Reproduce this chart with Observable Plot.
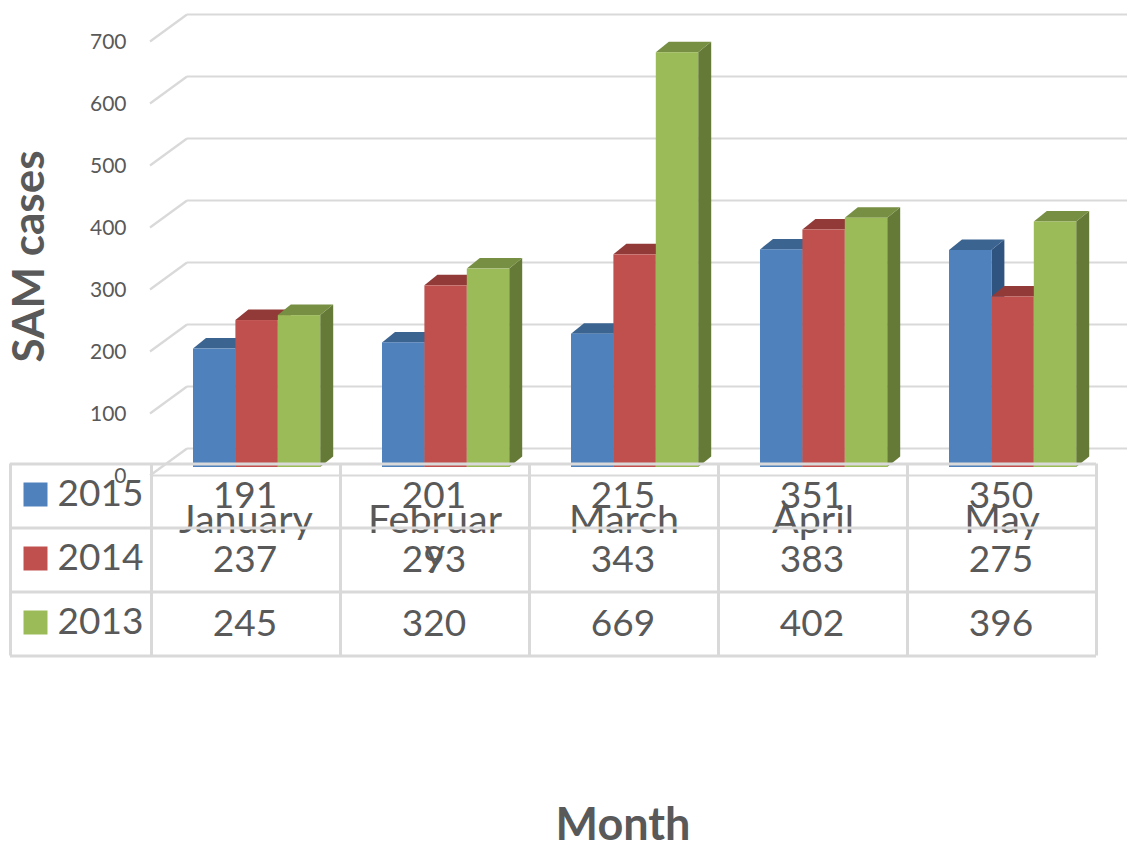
<!DOCTYPE html>
<html>
<head>
<meta charset="utf-8">
<script src="https://cdn.jsdelivr.net/npm/d3@7"></script>
<script src="https://cdn.jsdelivr.net/npm/@observablehq/plot@0.6"></script>
<style>
html,body{margin:0;padding:0;background:#fff}
svg{display:block}
</style>
</head>
<body>
<div id="chart"></div>
<script>
const months = ["January", "February", "March", "April", "May"];
const monthLabels = ["January", "Februar\ny", "March", "April", "May"];
const years = ["2015", "2014", "2013"];
const values2015 = [191, 201, 215, 351, 350];
const values2014 = [237, 293, 343, 383, 275];
const values2013 = [245, 320, 669, 402, 396];
const yTicks = [0, 100, 200, 300, 400, 500, 600, 700];
const frontColors = ["#4F81BD", "#C0504D", "#9BBB59"];
const topColors = ["#3B6491", "#923A38", "#778F43"];
const sideColors = ["#305480", "#7A2F2D", "#667A38"];

const seriesValues = [values2015, values2014, values2013];
const GRID = "#D9D9D9", INK = "#595959";
const BAND = 189, LEAD = 42, BARW = 42.4, ROW0 = 463.5 , ROWH = 64;
const TOP = 33;
const rowDy = r => ROW0 + 32 + r * ROWH - TOP;

function extrude(s) {
  return (index, scales, values, dims, ctx, next) => {
    const g = next(index, scales, values, dims, ctx);
    d3.select(g).selectAll("rect").each(function () {
      const x = +this.getAttribute("x"), y = +this.getAttribute("y"),
            w = +this.getAttribute("width"), h = +this.getAttribute("height");
      const dx = 13, dy = -10.5;
      const p = this.parentNode;
      const add = (pts, fill) => {
        const el = document.createElementNS("http://www.w3.org/2000/svg", "polygon");
        el.setAttribute("points", pts.map(q => q.join(",")).join(" "));
        el.setAttribute("fill", fill);
        p.insertBefore(el, this);
      };
      add([[x + w, y], [x + w + dx, y + dy], [x + w + dx, y + h + dy], [x + w, y + h]], sideColors[s]);
      add([[x, y], [x + dx, y + dy], [x + w + dx, y + dy], [x + w, y]], topColors[s]);
    });
    return g;
  };
}

function withDiagonal(index, scales, values, dims, ctx, next) {
  const g = next(index, scales, values, dims, ctx);
  d3.select(g).selectAll("line").each(function () {
    const x = +this.getAttribute("x1"), y = +this.getAttribute("y1");
    const el = document.createElementNS("http://www.w3.org/2000/svg", "line");
    el.setAttribute("x1", x); el.setAttribute("y1", y);
    el.setAttribute("x2", x - 37); el.setAttribute("y2", y + 27);
    this.parentNode.appendChild(el);
  });
  return g;
}

const bars = years.map((yr, s) => Plot.barY(months.map((m, i) => ({month: m, value: seriesValues[s][i]})), {
  x: "month", y: "value", fill: frontColors[s],
  insetLeft: LEAD + BARW * s,
  insetRight: BAND - LEAD - BARW * (s + 1),
  render: extrude(s)
}));

const tableRows = years.flatMap((yr, r) => months.map((m, i) => ({month: m, text: String(seriesValues[r][i]), row: r})));

const chart = Plot.plot({
  width: 1127, height: 842,
  marginLeft: 151, marginRight: 31, marginTop: TOP, marginBottom: 842 - 467,
  style: {fontFamily: "Lato", background: "#fff", overflow: "visible"},
  x: {domain: months, padding: 0, round: false, axis: null},
  y: {domain: [0, 700], axis: null},
  marks: [
    // back wall gridlines with left wall diagonals
    Plot.ruleY(yTicks, {y: d => d, dy: -19, insetLeft: 36, insetRight: -31, stroke: GRID, strokeWidth: 2.2, render: withDiagonal}),
    // floor front edge
    Plot.ruleY([0], {dy: 8, stroke: GRID, strokeWidth: 2}),
    Plot.axisY({ticks: yTicks, anchor: "left", tickSize: 0, tickPadding: 25, dy: 9, label: null, fontSize: 21, color: INK, fill: INK}),
    ...bars,
    // month labels, under the table lines
    Plot.text(months.map((m, i) => ({month: m, label: monthLabels[i]})), {
      x: "month", text: "label", frameAnchor: "top", lineAnchor: "top", dy: 509 - TOP,
      fontSize: 39.5, fill: INK, lineHeight: 0.84
    }),
    // table lines
    ...[0, 1, 2, 3].map(r => Plot.ruleY([0], {dy: ROW0 + r * ROWH - 467, insetLeft: -141, stroke: GRID, strokeWidth: 3})),
    Plot.ruleX(months, {x: d => d, dx: -BAND / 2, insetTop: 463.5 - TOP, insetBottom: -(ROW0 + 3 * ROWH - 467), stroke: GRID, strokeWidth: 3}),
    Plot.ruleX(["May"], {x: d => d, dx: BAND / 2, insetTop: 463.5 - TOP, insetBottom: -(ROW0 + 3 * ROWH - 467), stroke: GRID, strokeWidth: 3}),
    Plot.ruleX(["January"], {x: d => d, dx: -BAND / 2 - 141, insetTop: 463.5 - TOP, insetBottom: -(ROW0 + 3 * ROWH - 467), stroke: GRID, strokeWidth: 3}),
    // table values
    ...years.map((yr, r) => Plot.text(tableRows.filter(d => d.row === r), {
      x: "month", text: "text", frameAnchor: "top", lineAnchor: "middle", dx: -1, dy: rowDy(r), fontSize: 37, fill: INK
    })),
    // legend swatches and year labels
    ...years.map((yr, r) => Plot.dot([yr], {
      x: () => "January", frameAnchor: "top", dx: -BAND / 2 - 116, dy: rowDy(r) - 1.5,
      symbol: "square", r: 13.54, fill: frontColors[r], stroke: null
    })),
    ...years.map((yr, r) => Plot.text([yr], {
      x: () => "January", text: d => d, frameAnchor: "top", lineAnchor: "middle", textAnchor: "start",
      dx: -BAND / 2 - 94, dy: rowDy(r) - 2, fontSize: 37, fill: INK
    })),
    // axis titles
    Plot.text(["SAM cases"], {
      frameAnchor: "left", dx: -122, dy: 6, rotate: -90, text: d => d, lineAnchor: "middle", textAnchor: "middle",
      fontSize: 44, fontWeight: 700, fill: INK
    }),
    Plot.text(["Month"], {
      frameAnchor: "bottom", dx: -1, dy: 358, text: d => d, lineAnchor: "middle",
      fontSize: 45, fontWeight: 700, fill: INK
    })
  ]
});
document.getElementById("chart").appendChild(chart);
</script>
</body>
</html>
